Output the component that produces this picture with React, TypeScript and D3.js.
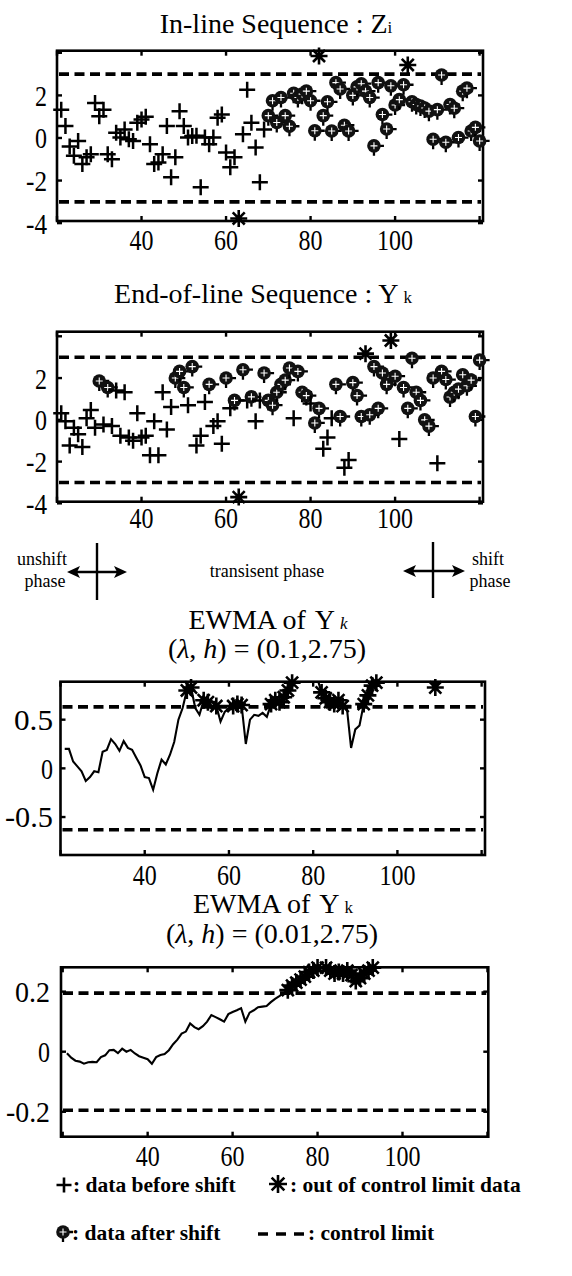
import * as d3 from "d3";

const FONT = "'Liberation Serif', 'Times New Roman', serif";

// sample index of the first plotted observation
const firstSample = 21;

// In-line sequence Z_i, samples 21..120
const ziValues = [
  1.33, 0.56, -0.4, -0.84, -0.14, -1.22, -0.9, -0.76, 1.64, 1.02,
  1.33, -0.76, -1.0, 0.25, 0.02, 0.4, -0.06, -0.14, 0.71, 0.87,
  1.0, -0.3, -1.22, -1.15, -0.76, 0.56, -1.85, -0.91, 1.26, 0.56,
  0.02, 0.09, 0.1, -2.31, 0.02, -0.3, 0.02, 0.95, 1.1, -0.68,
  -1.38, -0.9, -3.78, 0.17, 2.26, 0.71, -0.45, -2.08, 0.4, 1.05,
  1.75, 0.73, 1.9, 1.05, 0.55, 2.1, 1.9, 2.06, 2.2, 1.75,
  0.34, 3.85, 1.05, 1.7, 0.33, 2.6, 2.3, 0.6, 0.33, 2.0,
  2.4, 2.55, 2.2, 1.9, -0.37, 2.6, 1.1, 0.42, 2.45, 1.55,
  1.8, 2.5, 3.43, 1.7, 1.57, 1.5, 1.41, 1.26, -0.06, 1.33,
  2.96, -0.2, 1.57, 1.4, 0.02, 2.2, 2.34, 0.33, 0.5, -0.14,
];
// first Z sample that is already after the shift
const ziFirstShifted = 70;

// End-of-line sequence Y_k, samples 21..120
const ykValues = [
  0.32, -0.07, -1.23, -0.38, -0.69, -1.3, 0.08, 0.47, -0.38, 1.86,
  -0.22, 1.55, -0.3, 1.4, -0.76, 1.32, -0.84, -1.0, 0.32, -0.84,
  -0.76, -1.69, -0.07, -1.69, 1.32, -0.46, 0.62, 2.0, 2.32, 1.55,
  0.7, 2.55, -1.23, -0.76, 0.85, 1.7, -0.3, -0.07, -1.15, 2.0,
  0.55, 0.93, -3.7, 2.4, 0.93, 1.1, -0.07, 0.93, 2.24, 0.93,
  0.7, 1.32, 1.7, 1.9, 2.48, 0.08, 2.32, 1.32, 1.16, 0.78,
  -0.15, 0.55, -1.38, -0.84, 0.08, 1.7, 0.16, -2.3, -1.92, 1.78,
  1.16, 0.16, 3.17, 0.24, 2.55, 0.55, 2.24, 1.7, 3.8, 2.09,
  -0.92, 1.55, 0.55, 2.95, 1.32, 0.93, 0.0, -0.3, 2.0, -2.08,
  2.32, 1.93, 1.09, 1.32, 1.47, 2.16, 1.63, 1.9, 0.16, 2.86,
];
// 1 = observation produced after the shift
const ykShifted = [
  0, 0, 0, 0, 0, 0, 0, 0, 0, 1,
  0, 1, 0, 0, 0, 0, 0, 0, 0, 0,
  0, 0, 0, 0, 0, 0, 0, 1, 1, 1,
  0, 1, 0, 0, 0, 1, 0, 0, 0, 1,
  0, 1, 0, 1, 0, 1, 0, 0, 1, 1,
  1, 1, 1, 1, 1, 0, 1, 1, 1, 0,
  1, 1, 0, 0, 0, 1, 1, 0, 0, 1,
  1, 1, 1, 1, 1, 1, 1, 1, 1, 1,
  0, 1, 1, 1, 1, 1, 1, 1, 1, 0,
  1, 1, 1, 1, 1, 1, 1, 1, 1, 1,
];

// EWMA of Y_k, lambda = 0.1, samples 21..120
const ewmaLambda01 = [
  0.2, 0.2, 0.07, 0.02, -0.03, -0.13, -0.09, -0.03, -0.04, 0.17,
  0.19, 0.3, 0.25, 0.18, 0.28, 0.21, 0.19, 0.11, 0.03, -0.09,
  -0.1, -0.22, -0.05, 0.09, 0.04, 0.14, 0.27, 0.5, 0.62, 0.8,
  0.83, 0.62, 0.55, 0.7, 0.68, 0.6, 0.64, 0.48, 0.58, 0.62,
  0.64, 0.66, 0.65, 0.25, 0.5, 0.55, 0.54, 0.57, 0.53, 0.66,
  0.7, 0.68, 0.73, 0.8, 0.88, 0.95, 1.0, 1.05, 1.0, 0.95,
  0.92, 0.78, 0.72, 0.68, 0.66, 0.7, 0.64, 0.62, 0.21, 0.4,
  0.44, 0.66, 0.75, 0.85, 0.88, 0.95, 1.0, 1.02, 1.05, 1.08,
  1.06, 1.04, 1.02, 1.0, 0.97, 0.95, 0.93, 0.92, 0.83, 0.94,
  1.0, 1.03, 1.05, 1.06, 1.04, 1.03, 1.01, 1.0, 1.02, 1.01,
];

// EWMA of Y_k, lambda = 0.01, samples 21..96 (leaves the frame afterwards)
const ewmaLambda001 = [
  -0.005, -0.02, -0.03, -0.033, -0.04, -0.035, -0.034, -0.035, -0.018, -0.012,
  0.005, 0.006, -0.005, 0.01, 0.0, 0.006, -0.006, -0.015, -0.02, -0.025,
  -0.04, -0.018, -0.011, -0.008, 0.005, 0.025, 0.04, 0.06, 0.067, 0.094,
  0.082, 0.075, 0.085, 0.1, 0.122, 0.115, 0.108, 0.1, 0.125, 0.132,
  0.138, 0.145, 0.1, 0.13, 0.138, 0.148, 0.15, 0.152, 0.165, 0.176,
  0.185, 0.195, 0.205, 0.22, 0.23, 0.24, 0.25, 0.265, 0.27, 0.28,
  0.285, 0.28, 0.27, 0.26, 0.265, 0.26, 0.27, 0.255, 0.235, 0.245,
  0.26, 0.27, 0.28, 0.29, 0.3, 0.31,
];

const rawLimit = 3;
const ewmaLimit01 = 0.631;
const ewmaLimit001 = 0.195;

const xTicks = [20, 40, 60, 80, 100, 120];
const xTickLabels = [40, 60, 80, 100];
const rawYTicks = [-4, -2, 0, 2, 4];
const rawYTickLabels = [-4, -2, 0, 2];
const ewma01YTicks = [-0.5, 0, 0.5];
const ewma001YTicks = [-0.2, 0, 0.2];

type Scale = d3.ScaleLinear<number, number>;

// the scanned labels are narrow and tall: squeeze them to the measured width
const labelWidth = (s: string, dot: number) =>
  s.split("").reduce((w, c) => w + (c === "-" ? 9 : c === "." ? dot : 12), 0);

const Plus = ({ x, y, s = 8, w = 2.5 }: { x: number; y: number; s?: number; w?: number }) => (
  <path d={`M${x - s},${y}H${x + s}M${x},${y - s}V${y + s}`} stroke="#000" strokeWidth={w} fill="none" />
);

const Star = ({ x, y, s = 8.5, w = 2.6 }: { x: number; y: number; s?: number; w?: number }) => {
  const d = s * Math.SQRT1_2;
  return (
    <path
      d={`M${x - s},${y}H${x + s}M${x},${y - s}V${y + s}M${x - d},${y - d}L${x + d},${y + d}M${x - d},${y + d}L${x + d},${y - d}`}
      stroke="#000"
      strokeWidth={w}
      fill="none"
    />
  );
};

const Shifted = ({ x, y }: { x: number; y: number }) => (
  <g transform={`translate(${x},${y})`}>
    <path d="M0,0V10M0,0H10" stroke="#000" strokeWidth={2.3} />
    <circle r={6.8} fill="#111" />
    <path d="M-3.5,0H3.5M0,-3.5V3.5" stroke="#fff" strokeWidth={1.1} />
  </g>
);

function Axes({
  x,
  y,
  yTicks,
  yLabels,
  limit,
  labelX,
  xLabelY,
  dot,
}: {
  x: Scale;
  y: Scale;
  yTicks: number[];
  yLabels: number[];
  limit: number;
  labelX: number;
  xLabelY: number;
  dot: number;
}) {
  const [x0, x1] = x.range();
  const [yb, yt] = y.range();
  const tick = 5;
  return (
    <g>
      <g stroke="#000" strokeWidth={3.6} strokeDasharray="10 5.5">
        <line x1={x0 + 2} x2={x1 - 2} y1={y(limit)} y2={y(limit)} />
        <line x1={x0 + 2} x2={x1 - 2} y1={y(-limit)} y2={y(-limit)} />
      </g>
      <g stroke="#000" strokeWidth={2.4}>
        {xTicks.map((t) => (
          <g key={t}>
            <line x1={x(t)} x2={x(t)} y1={yb} y2={yb - tick} />
            <line x1={x(t)} x2={x(t)} y1={yt} y2={yt + tick} />
          </g>
        ))}
        {yTicks.map((t) => (
          <g key={t}>
            <line x1={x0} x2={x0 + tick} y1={y(t)} y2={y(t)} />
            <line x1={x1} x2={x1 - tick} y1={y(t)} y2={y(t)} />
          </g>
        ))}
      </g>
      <rect x={x0} y={yt} width={x1 - x0} height={yb - yt} fill="none" stroke="#000" strokeWidth={2.6} />
      <g fontFamily={FONT} fontSize={29} fill="#000">
        {xTickLabels.map((t) => (
          <text
            key={t}
            x={x(t)}
            y={xLabelY}
            textAnchor="middle"
            textLength={labelWidth(`${t}`, dot)}
            lengthAdjust="spacingAndGlyphs"
          >
            {t}
          </text>
        ))}
        {yLabels.map((t) => (
          <text
            key={t}
            x={labelX}
            y={y(t)}
            dy="0.36em"
            textAnchor="end"
            textLength={labelWidth(`${t}`, dot)}
            lengthAdjust="spacingAndGlyphs"
          >
            {t}
          </text>
        ))}
      </g>
    </g>
  );
}

const samples = (n: number) => d3.range(firstSample, firstSample + n);

function ScatterPanel({
  x,
  y,
  values,
  isShifted,
  xLabelY,
}: {
  x: Scale;
  y: Scale;
  values: number[];
  isShifted: (i: number) => boolean;
  xLabelY: number;
}) {
  const xs = samples(values.length);
  return (
    <g>
      <Axes x={x} y={y} yTicks={rawYTicks} yLabels={rawYTickLabels} limit={rawLimit} labelX={47} xLabelY={xLabelY} dot={8} />
      {values.map((v, i) => {
        const cx = x(xs[i]);
        const cy = y(v);
        if (Math.abs(v) > rawLimit) return <Star key={i} x={cx} y={cy} />;
        return isShifted(i) ? <Shifted key={i} x={cx} y={cy} /> : <Plus key={i} x={cx} y={cy} />;
      })}
    </g>
  );
}

function EwmaPanel({
  x,
  y,
  values,
  limit,
  yTicks,
  labelX,
  xLabelY,
  dot,
  id,
}: {
  x: Scale;
  y: Scale;
  values: number[];
  limit: number;
  yTicks: number[];
  labelX: number;
  xLabelY: number;
  dot: number;
  id: string;
}) {
  const xs = samples(values.length);
  const [x0, x1] = x.range();
  const [yb, yt] = y.range();
  const line = d3
    .line<number>()
    .x((_, i) => x(xs[i]))
    .y((v) => y(v));
  const top = y.domain()[1];
  return (
    <g>
      <defs>
        <clipPath id={id}>
          <rect x={x0} y={yt} width={x1 - x0} height={yb - yt} />
        </clipPath>
      </defs>
      <Axes x={x} y={y} yTicks={yTicks} yLabels={yTicks} limit={limit} labelX={labelX} xLabelY={xLabelY} dot={dot} />
      <path d={line(values) ?? ""} fill="none" stroke="#000" strokeWidth={2.1} clipPath={`url(#${id})`} />
      {values.map((v, i) => (Math.abs(v) > limit && v <= top ? <Star key={i} x={x(xs[i])} y={y(v)} /> : null))}
    </g>
  );
}

const DoubleArrow = ({ xa, xb, y }: { xa: number; xb: number; y: number }) => (
  <g>
    <line x1={xa + 8} x2={xb - 8} y1={y} y2={y} stroke="#000" strokeWidth={2.4} />
    <path d={`M${xa},${y}L${xa + 13},${y - 6}L${xa + 10},${y}L${xa + 13},${y + 6}Z`} fill="#000" />
    <path d={`M${xb},${y}L${xb - 13},${y - 6}L${xb - 10},${y}L${xb - 13},${y + 6}Z`} fill="#000" />
  </g>
);

export default function App() {
  const x1 = d3.scaleLinear().domain([20, 120.8]).range([57, 483]);
  const y1 = d3.scaleLinear().domain([-3.9, 4.1]).range([221, 50.7]);
  const x2 = d3.scaleLinear().domain([20, 120.8]).range([57, 483]);
  const y2 = d3.scaleLinear().domain([-3.92, 4.22]).range([501.7, 331.7]);
  const x3 = d3.scaleLinear().domain([20, 120.8]).range([60.5, 485]);
  const y3 = d3.scaleLinear().domain([-0.89, 0.89]).range([855, 681.7]);
  const x4 = d3.scaleLinear().domain([19.6, 120.2]).range([61, 488.3]);
  const y4 = d3.scaleLinear().domain([-0.283, 0.281]).range([1136.7, 967.3]);

  const title = { fontFamily: FONT, fontSize: 28, fill: "#000" } as const;

  return (
    <svg
      width={572}
      height={1276}
      viewBox="0 0 572 1276"
      style={{ position: "absolute", left: 0, top: 0, background: "#fff" }}
    >
      <rect width={572} height={1276} fill="#fff" />

      <text x={276} y={33} textAnchor="middle" {...title}>
        In-line Sequence : Z<tspan fontSize={17}>i</tspan>
      </text>
      <ScatterPanel x={x1} y={y1} values={ziValues} isShifted={(i) => firstSample + i >= ziFirstShifted} xLabelY={250} />

      <text x={263} y={303} textAnchor="middle" {...title}>
        End-of-line Sequence : Y<tspan fontSize={17} dx={5}>k</tspan>
      </text>
      <ScatterPanel x={x2} y={y2} values={ykValues} isShifted={(i) => ykShifted[i] === 1} xLabelY={528} />

      <g fontFamily={FONT} fontSize={18} fill="#000">
        <text x={42} y={565} textAnchor="middle">unshift</text>
        <text x={45} y={587} textAnchor="middle">phase</text>
        <text x={267} y={577} textAnchor="middle">transisent phase</text>
        <text x={488} y={565} textAnchor="middle">shift</text>
        <text x={490} y={587} textAnchor="middle">phase</text>
      </g>
      <line x1={97} x2={97} y1={543} y2={600} stroke="#000" strokeWidth={2.4} />
      <DoubleArrow xa={67} xb={127} y={572} />
      <line x1={433} x2={433} y1={542} y2={598} stroke="#000" strokeWidth={2.4} />
      <DoubleArrow xa={403} xb={465} y={571} />

      <text x={268} y={629} textAnchor="middle" {...title}>
        EWMA of<tspan dx={9}>Y</tspan>
        <tspan fontSize={17} dx={5} fontStyle="italic">k</tspan>
      </text>
      <text x={267} y={658} textAnchor="middle" {...title}>
        (<tspan fontStyle="italic">λ</tspan>, <tspan fontStyle="italic">h</tspan>) = (0.1,2.75)
      </text>
      <EwmaPanel
        x={x3}
        y={y3}
        values={ewmaLambda01}
        limit={ewmaLimit01}
        yTicks={ewma01YTicks}
        labelX={53}
        xLabelY={885}
        dot={15}
        id="e1"
      />

      <text x={273} y={913} textAnchor="middle" {...title}>
        EWMA of<tspan dx={9}>Y</tspan>
        <tspan fontSize={17} dx={5}>k</tspan>
      </text>
      <text x={272} y={943} textAnchor="middle" {...title}>
        (<tspan fontStyle="italic">λ</tspan>, <tspan fontStyle="italic">h</tspan>) = (0.01,2.75)
      </text>
      <EwmaPanel
        x={x4}
        y={y4}
        values={ewmaLambda001}
        limit={ewmaLimit001}
        yTicks={ewma001YTicks}
        labelX={50}
        xLabelY={1166}
        dot={11}
        id="e2"
      />

      <g fontFamily={FONT} fontSize={21.5} fontWeight="bold" fill="#000">
        <Plus x={64} y={1185} s={7.5} w={2.6} />
        <text x={73} y={1192}>: data before shift</text>
        <Star x={278} y={1184} s={9} w={2.6} />
        <text x={290} y={1192}>: out of control limit data</text>
        <Shifted x={63} y={1232} />
        <text x={72} y={1240}>: data after shift</text>
        <g stroke="#000" strokeWidth={3.5}>
          <line x1={258} x2={268} y1={1234} y2={1234} />
          <line x1={276} x2={286} y1={1234} y2={1234} />
          <line x1={294} x2={304} y1={1234} y2={1234} />
        </g>
        <text x={308} y={1240}>: control limit</text>
      </g>
    </svg>
  );
}
